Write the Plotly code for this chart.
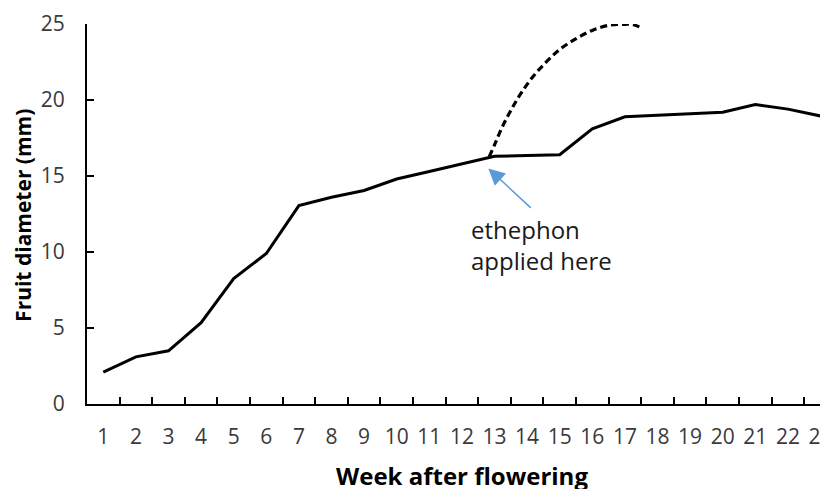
import plotly.graph_objects as go

weeks = list(range(1, 24))
diameter = [2.1, 3.1, 3.5, 5.35, 8.25, 9.9, 13.05, 13.6, 14.05, 14.8, 15.3, 15.8,
            16.3, 16.35, 16.4, 18.1, 18.9, 19.0, 19.1, 19.2, 19.7, 19.4, 18.95]

# projected curve after ethephon application (dashed)
proj_weeks = [12.84, 13.02, 13.22, 13.48, 13.78, 14.14, 14.55, 15.01, 15.52, 16.03,
              16.54, 16.95, 17.26, 17.53]
proj_diam = [16.27, 17.14, 18.14, 19.23, 20.33, 21.43, 22.42, 23.34, 24.06, 24.61,
             24.93, 24.98, 24.95, 24.72]

y_ticks = [0, 5, 10, 15, 20, 25]
x_title = "Week after flowering"
y_title = "Fruit diameter (mm)"
note_text = "ethephon<br>applied here"

# page body has an 8px default margin, so the figure is laid out shifted by 8px
W, H = 828, 489
L, R, T, B = 79, 0, 16, 93
cat_w = 32.6
plot_w = W - L - R
plot_h = H - T - B
x_max = 0.5 + plot_w / cat_w

fig = go.Figure()
fig.add_trace(go.Scatter(x=weeks, y=diameter, mode="lines",
                         line=dict(color="black", width=3), hoverinfo="skip"))
fig.add_trace(go.Scatter(x=proj_weeks, y=proj_diam, mode="lines",
                         line=dict(color="black", width=3.2, dash="7px,4px",
                                   shape="spline", smoothing=1.0),
                         hoverinfo="skip"))

tick_font = dict(family="Open Sans", size=21, color="#3a3a3a")

fig.update_layout(
    width=W, height=H,
    margin=dict(l=L, r=R, t=T, b=B),
    paper_bgcolor="white", plot_bgcolor="white",
    showlegend=False,
    xaxis=dict(
        range=[0.5, x_max],
        tickmode="array", tickvals=weeks, ticktext=[str(w) for w in weeks],
        ticks="", showgrid=False, zeroline=False,
        showline=True, linecolor="black", linewidth=2,
        tickfont=tick_font, ticklabelstandoff=13,
        ticklabeloverflow="allow",
        minor=dict(tickmode="array", tickvals=[w + 0.5 for w in weeks[:-1]],
                   ticks="inside", ticklen=7, tickwidth=2, tickcolor="black",
                   showgrid=False),
    ),
    yaxis=dict(
        range=[0, 25],
        tickmode="array", tickvals=y_ticks,
        ticks="inside", ticklen=7, tickwidth=2, tickcolor="black",
        showgrid=False, zeroline=False,
        showline=True, linecolor="black", linewidth=2,
        tickfont=tick_font, ticklabelstandoff=16,
    ),
)

fig.add_annotation(xref="paper", yref="paper", x=(454 - L) / plot_w, y=-0.139,
                   xanchor="center", yanchor="top", showarrow=False,
                   text="<b>" + x_title + "</b>",
                   font=dict(family="Open Sans", size=24, color="black"))
fig.add_annotation(xref="paper", yref="paper", x=(15 - L) / plot_w, y=0.495,
                   xanchor="center", yanchor="middle", showarrow=False,
                   textangle=-90,
                   text="<b>" + y_title + "</b>",
                   font=dict(family="Open Sans", size=21, color="black"))

# arrow pointing at week-13 application point
fig.add_annotation(x=12.81, y=15.5, ax=14.16, ay=12.81, xref="x", yref="y",
                   axref="x", ayref="y", text="", showarrow=True,
                   arrowhead=2, arrowsize=2.2, arrowwidth=1.5,
                   arrowcolor="#5B9BD5")
fig.add_annotation(x=12.22, y=10.45, xref="x", yref="y", xanchor="left",
                   yanchor="middle", align="left", showarrow=False,
                   text=note_text,
                   font=dict(family="Open Sans", size=24, color="#1a1a1a"))

fig.write_html("out.html")
